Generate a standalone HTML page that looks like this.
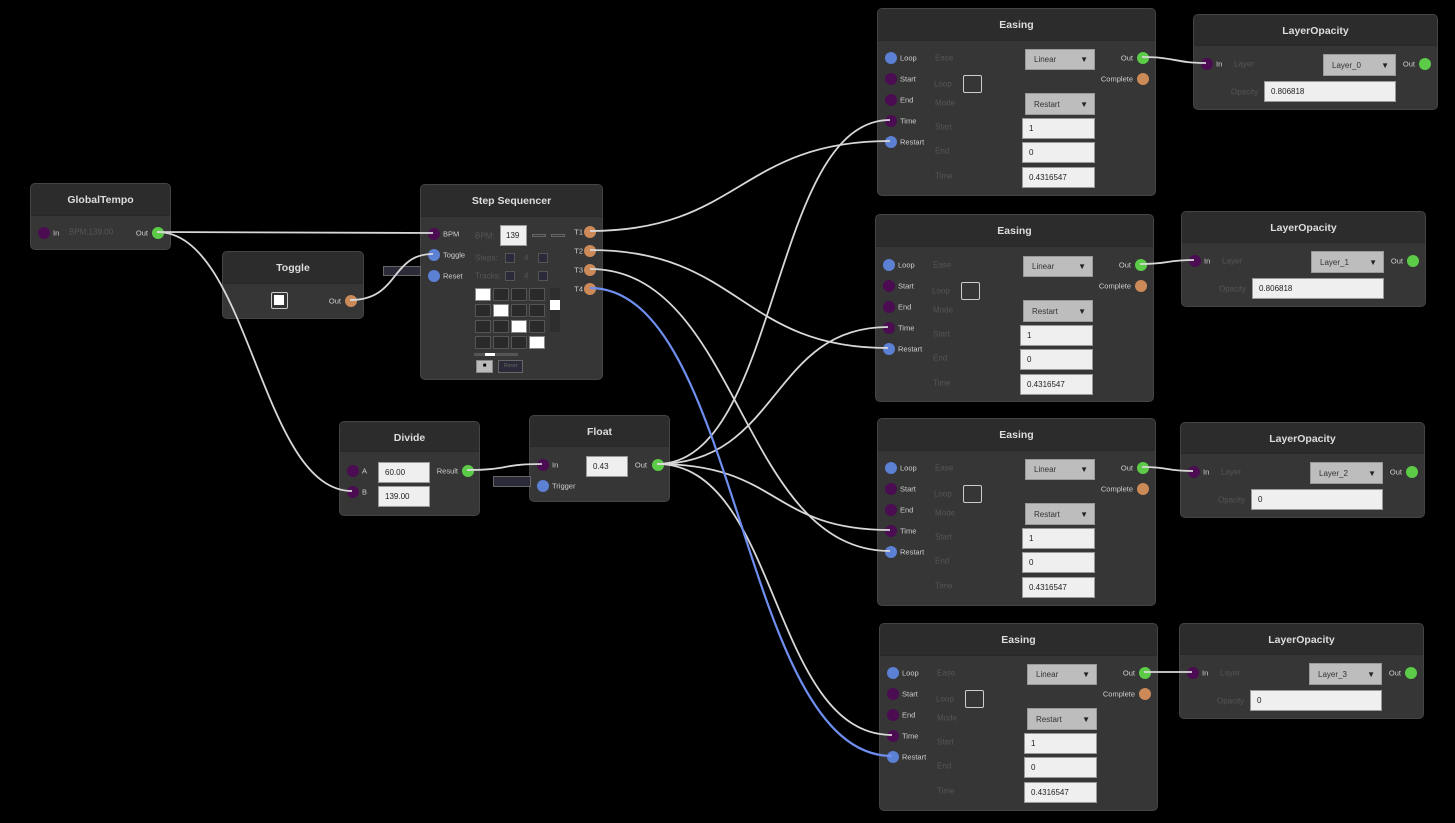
<!DOCTYPE html>
<html><head><meta charset="utf-8"><style>
*{box-sizing:border-box;margin:0;padding:0}
body{width:1455px;height:823px;background:#000;position:relative;overflow:hidden;font-family:"Liberation Sans",sans-serif}
.n{position:absolute;background:#363636;border:1px solid #444;border-radius:5px;overflow:hidden}
.h{position:absolute;left:0;top:0;right:0;background:#2c2c2c;color:#ddd;font-weight:bold;font-size:10.5px;text-align:center;border-bottom:1px solid #282828}
.a{position:absolute}
.p{position:absolute;width:12px;height:12px;border-radius:50%;margin:-6px 0 0 -6px}
.pu{background:#4b0c52}.bl{background:#5b80d4}.gr{background:#5ccb48}.or{background:#cc8a58}
.l{position:absolute;font-size:7.5px;color:#cfcfcf;transform:translateY(-50%);white-space:nowrap}
.fl{position:absolute;font-size:8px;color:#555;transform:translateY(-50%);white-space:nowrap}
.in{position:absolute;background:#efefef;border:1px solid #999;font-size:8px;color:#222;padding-left:6px;display:flex;align-items:center}
.dd{position:absolute;background:#bdbdbd;border:1px solid #999;font-size:8px;color:#333;padding-left:8px;display:flex;align-items:center}
.dd:after{content:"▼";position:absolute;right:6px;font-size:8px;color:#222}
.cb{position:absolute;border:1.5px solid #ccc;border-radius:2px}
.sq{position:absolute;width:16px;height:13px;border:1px solid #555;background:#2a2a2a}
.sq.w{background:#fff;border-color:#888}
</style></head><body>

<!-- GlobalTempo -->
<div class="n" style="left:30px;top:183px;width:141px;height:67px">
<div class="h" style="height:32px;line-height:32px">GlobalTempo</div>
<div class="p pu" style="left:13px;top:49px"></div><div class="l" style="left:22px;top:49px">In</div>
<div class="fl" style="left:38px;top:48px">BPM:139.00</div>
<div class="l" style="right:22px;top:49px">Out</div><div class="p gr" style="left:127px;top:49px"></div>
</div>

<!-- Toggle -->
<div class="n" style="left:222px;top:251px;width:142px;height:68px">
<div class="h" style="height:32px;line-height:32px">Toggle</div>
<div class="cb" style="left:48px;top:40px;width:17px;height:17px;padding:2px"><div style="width:10px;height:10px;background:#fff"></div></div>
<div class="l" style="right:22px;top:49px">Out</div><div class="p or" style="left:128px;top:49px"></div>
</div>

<!-- Step Sequencer -->
<div class="n" style="left:420px;top:184px;width:183px;height:196px">
<div class="h" style="height:32px;line-height:32px">Step Sequencer</div>
<div class="p pu" style="left:13px;top:49px"></div><div class="l" style="left:22px;top:49px">BPM</div>
<div class="p bl" style="left:13px;top:70px"></div><div class="l" style="left:22px;top:70px">Toggle</div>
<div class="p bl" style="left:13px;top:91px"></div><div class="l" style="left:22px;top:91px">Reset</div>
<div class="fl" style="left:54px;top:51px">BPM:</div>
<div class="in" style="left:79px;top:40px;width:27px;height:21px;padding-left:5px">139</div>
<div class="a" style="left:111px;top:49px;width:14px;height:3px;border:1px solid #666"></div>
<div class="a" style="left:130px;top:49px;width:14px;height:3px;border:1px solid #666"></div>
<div class="fl" style="left:54px;top:73px">Steps:</div><div class="a" style="left:84px;top:68px;width:10px;height:10px;border:1px solid #555;background:#2a2a3a"></div><div class="fl" style="left:103px;top:73px">4</div><div class="a" style="left:117px;top:68px;width:10px;height:10px;border:1px solid #555;background:#2a2a3a"></div>
<div class="fl" style="left:54px;top:91px">Tracks:</div><div class="a" style="left:84px;top:86px;width:10px;height:10px;border:1px solid #555;background:#2a2a3a"></div><div class="fl" style="left:103px;top:91px">4</div><div class="a" style="left:117px;top:86px;width:10px;height:10px;border:1px solid #555;background:#2a2a3a"></div>
<div class="sq w" style="left:54px;top:103px"></div><div class="sq" style="left:72px;top:103px"></div><div class="sq" style="left:90px;top:103px"></div><div class="sq" style="left:108px;top:103px"></div>
<div class="sq" style="left:54px;top:119px"></div><div class="sq w" style="left:72px;top:119px"></div><div class="sq" style="left:90px;top:119px"></div><div class="sq" style="left:108px;top:119px"></div>
<div class="sq" style="left:54px;top:135px"></div><div class="sq" style="left:72px;top:135px"></div><div class="sq w" style="left:90px;top:135px"></div><div class="sq" style="left:108px;top:135px"></div>
<div class="sq" style="left:54px;top:151px"></div><div class="sq" style="left:72px;top:151px"></div><div class="sq" style="left:90px;top:151px"></div><div class="sq w" style="left:108px;top:151px"></div>
<div class="a" style="left:129px;top:103px;width:10px;height:44px;background:#2e2e2e"></div>
<div class="a" style="left:129px;top:115px;width:10px;height:10px;background:#fff"></div>
<div class="a" style="left:53px;top:168px;width:44px;height:3px;background:#555"></div><div class="a" style="left:64px;top:168px;width:10px;height:3px;background:#fff"></div>
<div class="a" style="left:55px;top:175px;width:17px;height:13px;background:#bbb;border:1px solid #888;font-size:6px;text-align:center;line-height:11px">■</div>
<div class="a" style="left:77px;top:175px;width:25px;height:13px;background:#2a2a38;border:1px solid #666;font-size:5px;color:#666;text-align:center;line-height:11px">Reset</div>
<div class="l" style="right:19px;top:47px">T1</div><div class="p or" style="left:169px;top:47px"></div>
<div class="l" style="right:19px;top:66px">T2</div><div class="p or" style="left:169px;top:66px"></div>
<div class="l" style="right:19px;top:85px">T3</div><div class="p or" style="left:169px;top:85px"></div>
<div class="l" style="right:19px;top:104px">T4</div><div class="p or" style="left:169px;top:104px"></div>
</div>
<div class="a" style="left:383px;top:266px;width:38px;height:10px;background:#2a2a38;border:1px solid #666"></div>

<!-- Divide -->
<div class="n" style="left:339px;top:421px;width:141px;height:95px">
<div class="h" style="height:30px;line-height:32px">Divide</div>
<div class="p pu" style="left:13px;top:49px"></div><div class="l" style="left:22px;top:49px">A</div>
<div class="p pu" style="left:13px;top:70px"></div><div class="l" style="left:22px;top:70px">B</div>
<div class="in" style="left:38px;top:40px;width:52px;height:21px">60.00</div>
<div class="in" style="left:38px;top:64px;width:52px;height:21px">139.00</div>
<div class="l" style="right:21px;top:49px">Result</div><div class="p gr" style="left:128px;top:49px"></div>
</div>

<!-- Float -->
<div class="n" style="left:529px;top:415px;width:141px;height:87px">
<div class="h" style="height:31px;line-height:32px">Float</div>
<div class="p pu" style="left:13px;top:49px"></div><div class="l" style="left:22px;top:49px">In</div>
<div class="p bl" style="left:13px;top:70px"></div><div class="l" style="left:22px;top:70px">Trigger</div>
<div class="in" style="left:56px;top:40px;width:42px;height:21px">0.43</div>
<div class="l" style="right:22px;top:49px">Out</div><div class="p gr" style="left:128px;top:49px"></div>
</div>
<div class="a" style="left:493px;top:476px;width:38px;height:11px;background:#2a2a38;border:1px solid #666"></div>

<!-- Easing template x4 -->
<div class="n" style="left:877px;top:8px;width:279px;height:188px">
<div class="h" style="height:32px;line-height:33px">Easing</div>
<div class="p bl" style="left:13px;top:49px"></div><div class="l" style="left:22px;top:49px">Loop</div>
<div class="p pu" style="left:13px;top:70px"></div><div class="l" style="left:22px;top:70px">Start</div>
<div class="p pu" style="left:13px;top:91px"></div><div class="l" style="left:22px;top:91px">End</div>
<div class="p pu" style="left:13px;top:112px"></div><div class="l" style="left:22px;top:112px">Time</div>
<div class="p bl" style="left:13px;top:133px"></div><div class="l" style="left:22px;top:133px">Restart</div>
<div class="fl" style="left:57px;top:49px">Ease</div><div class="dd" style="left:147px;top:40px;width:70px;height:21px">Linear</div>
<div class="fl" style="left:56px;top:75px">Loop</div><div class="cb" style="left:85px;top:66px;width:19px;height:18px"></div>
<div class="fl" style="left:57px;top:94px">Mode</div><div class="dd" style="left:147px;top:84px;width:70px;height:22px">Restart</div>
<div class="fl" style="left:57px;top:118px">Start</div><div class="in" style="left:144px;top:109px;width:73px;height:21px">1</div>
<div class="fl" style="left:57px;top:142px">End</div><div class="in" style="left:144px;top:133px;width:73px;height:21px">0</div>
<div class="fl" style="left:57px;top:167px">Time</div><div class="in" style="left:144px;top:158px;width:73px;height:21px">0.4316547</div>
<div class="l" style="right:22px;top:49px">Out</div><div class="p gr" style="left:265px;top:49px"></div>
<div class="l" style="right:22px;top:70px">Complete</div><div class="p or" style="left:265px;top:70px"></div>
</div>
<div class="n" style="left:875px;top:214px;width:279px;height:188px">
<div class="h" style="height:32px;line-height:33px">Easing</div>
<div class="p bl" style="left:13px;top:50px"></div><div class="l" style="left:22px;top:50px">Loop</div>
<div class="p pu" style="left:13px;top:71px"></div><div class="l" style="left:22px;top:71px">Start</div>
<div class="p pu" style="left:13px;top:92px"></div><div class="l" style="left:22px;top:92px">End</div>
<div class="p pu" style="left:13px;top:113px"></div><div class="l" style="left:22px;top:113px">Time</div>
<div class="p bl" style="left:13px;top:134px"></div><div class="l" style="left:22px;top:134px">Restart</div>
<div class="fl" style="left:57px;top:50px">Ease</div><div class="dd" style="left:147px;top:41px;width:70px;height:21px">Linear</div>
<div class="fl" style="left:56px;top:76px">Loop</div><div class="cb" style="left:85px;top:67px;width:19px;height:18px"></div>
<div class="fl" style="left:57px;top:95px">Mode</div><div class="dd" style="left:147px;top:85px;width:70px;height:22px">Restart</div>
<div class="fl" style="left:57px;top:119px">Start</div><div class="in" style="left:144px;top:110px;width:73px;height:21px">1</div>
<div class="fl" style="left:57px;top:143px">End</div><div class="in" style="left:144px;top:134px;width:73px;height:21px">0</div>
<div class="fl" style="left:57px;top:168px">Time</div><div class="in" style="left:144px;top:159px;width:73px;height:21px">0.4316547</div>
<div class="l" style="right:22px;top:50px">Out</div><div class="p gr" style="left:265px;top:50px"></div>
<div class="l" style="right:22px;top:71px">Complete</div><div class="p or" style="left:265px;top:71px"></div>
</div>
<div class="n" style="left:877px;top:418px;width:279px;height:188px">
<div class="h" style="height:32px;line-height:33px">Easing</div>
<div class="p bl" style="left:13px;top:49px"></div><div class="l" style="left:22px;top:49px">Loop</div>
<div class="p pu" style="left:13px;top:70px"></div><div class="l" style="left:22px;top:70px">Start</div>
<div class="p pu" style="left:13px;top:91px"></div><div class="l" style="left:22px;top:91px">End</div>
<div class="p pu" style="left:13px;top:112px"></div><div class="l" style="left:22px;top:112px">Time</div>
<div class="p bl" style="left:13px;top:133px"></div><div class="l" style="left:22px;top:133px">Restart</div>
<div class="fl" style="left:57px;top:49px">Ease</div><div class="dd" style="left:147px;top:40px;width:70px;height:21px">Linear</div>
<div class="fl" style="left:56px;top:75px">Loop</div><div class="cb" style="left:85px;top:66px;width:19px;height:18px"></div>
<div class="fl" style="left:57px;top:94px">Mode</div><div class="dd" style="left:147px;top:84px;width:70px;height:22px">Restart</div>
<div class="fl" style="left:57px;top:118px">Start</div><div class="in" style="left:144px;top:109px;width:73px;height:21px">1</div>
<div class="fl" style="left:57px;top:142px">End</div><div class="in" style="left:144px;top:133px;width:73px;height:21px">0</div>
<div class="fl" style="left:57px;top:167px">Time</div><div class="in" style="left:144px;top:158px;width:73px;height:21px">0.4316547</div>
<div class="l" style="right:22px;top:49px">Out</div><div class="p gr" style="left:265px;top:49px"></div>
<div class="l" style="right:22px;top:70px">Complete</div><div class="p or" style="left:265px;top:70px"></div>
</div>
<div class="n" style="left:879px;top:623px;width:279px;height:188px">
<div class="h" style="height:32px;line-height:33px">Easing</div>
<div class="p bl" style="left:13px;top:49px"></div><div class="l" style="left:22px;top:49px">Loop</div>
<div class="p pu" style="left:13px;top:70px"></div><div class="l" style="left:22px;top:70px">Start</div>
<div class="p pu" style="left:13px;top:91px"></div><div class="l" style="left:22px;top:91px">End</div>
<div class="p pu" style="left:13px;top:112px"></div><div class="l" style="left:22px;top:112px">Time</div>
<div class="p bl" style="left:13px;top:133px"></div><div class="l" style="left:22px;top:133px">Restart</div>
<div class="fl" style="left:57px;top:49px">Ease</div><div class="dd" style="left:147px;top:40px;width:70px;height:21px">Linear</div>
<div class="fl" style="left:56px;top:75px">Loop</div><div class="cb" style="left:85px;top:66px;width:19px;height:18px"></div>
<div class="fl" style="left:57px;top:94px">Mode</div><div class="dd" style="left:147px;top:84px;width:70px;height:22px">Restart</div>
<div class="fl" style="left:57px;top:118px">Start</div><div class="in" style="left:144px;top:109px;width:73px;height:21px">1</div>
<div class="fl" style="left:57px;top:142px">End</div><div class="in" style="left:144px;top:133px;width:73px;height:21px">0</div>
<div class="fl" style="left:57px;top:167px">Time</div><div class="in" style="left:144px;top:158px;width:73px;height:21px">0.4316547</div>
<div class="l" style="right:22px;top:49px">Out</div><div class="p gr" style="left:265px;top:49px"></div>
<div class="l" style="right:22px;top:70px">Complete</div><div class="p or" style="left:265px;top:70px"></div>
</div>

<!-- LayerOpacity x4 -->
<div class="n" style="left:1193px;top:14px;width:245px;height:96px">
<div class="h" style="height:31px;line-height:33px">LayerOpacity</div>
<div class="p pu" style="left:13px;top:49px"></div><div class="l" style="left:22px;top:49px">In</div>
<div class="fl" style="left:40px;top:49px">Layer</div><div class="dd" style="left:129px;top:39px;width:73px;height:22px">Layer_0</div>
<div class="l" style="right:22px;top:49px">Out</div><div class="p gr" style="left:231px;top:49px"></div>
<div class="fl" style="left:37px;top:77px">Opacity</div><div class="in" style="left:70px;top:66px;width:132px;height:21px">0.806818</div>
</div>
<div class="n" style="left:1181px;top:211px;width:245px;height:96px">
<div class="h" style="height:31px;line-height:33px">LayerOpacity</div>
<div class="p pu" style="left:13px;top:49px"></div><div class="l" style="left:22px;top:49px">In</div>
<div class="fl" style="left:40px;top:49px">Layer</div><div class="dd" style="left:129px;top:39px;width:73px;height:22px">Layer_1</div>
<div class="l" style="right:22px;top:49px">Out</div><div class="p gr" style="left:231px;top:49px"></div>
<div class="fl" style="left:37px;top:77px">Opacity</div><div class="in" style="left:70px;top:66px;width:132px;height:21px">0.806818</div>
</div>
<div class="n" style="left:1180px;top:422px;width:245px;height:96px">
<div class="h" style="height:31px;line-height:33px">LayerOpacity</div>
<div class="p pu" style="left:13px;top:49px"></div><div class="l" style="left:22px;top:49px">In</div>
<div class="fl" style="left:40px;top:49px">Layer</div><div class="dd" style="left:129px;top:39px;width:73px;height:22px">Layer_2</div>
<div class="l" style="right:22px;top:49px">Out</div><div class="p gr" style="left:231px;top:49px"></div>
<div class="fl" style="left:37px;top:77px">Opacity</div><div class="in" style="left:70px;top:66px;width:132px;height:21px">0</div>
</div>
<div class="n" style="left:1179px;top:623px;width:245px;height:96px">
<div class="h" style="height:31px;line-height:33px">LayerOpacity</div>
<div class="p pu" style="left:13px;top:49px"></div><div class="l" style="left:22px;top:49px">In</div>
<div class="fl" style="left:40px;top:49px">Layer</div><div class="dd" style="left:129px;top:39px;width:73px;height:22px">Layer_3</div>
<div class="l" style="right:22px;top:49px">Out</div><div class="p gr" style="left:231px;top:49px"></div>
<div class="fl" style="left:37px;top:77px">Opacity</div><div class="in" style="left:70px;top:66px;width:132px;height:21px">0</div>
</div>

<svg class="a" style="left:0;top:0" width="1455" height="823" fill="none" stroke="#d8d8d8" stroke-width="1.8">
<path d="M157 232 L433 233"/>
<path d="M157 232 C250 232 260 491 352 491"/>
<path d="M350 300 C400 300 390 254 433 254"/>
<path d="M467 470 C510 470 500 464 542 464"/>
<path d="M590 231 C740 231 740 141 890 141"/>
<path d="M590 250 C740 250 740 348 888 348"/>
<path d="M590 269 C740 269 740 551 890 551"/>
<path d="M657 464 C780 464 770 120 890 120"/>
<path d="M657 464 C780 464 770 327 888 327"/>
<path d="M657 464 C780 464 770 530 890 530"/>
<path d="M657 464 C780 464 770 735 892 735"/>
<path d="M1142 57 C1175 57 1175 63 1206 63"/>
<path d="M1140 264 C1170 264 1165 260 1194 260"/>
<path d="M1142 467 C1170 467 1165 471 1193 471"/>
<path d="M1144 672 C1170 672 1165 672 1192 672"/>
<path d="M590 288 C740 288 740 756 892 756" stroke="#6f8ff0" stroke-width="2.2"/>
</svg>
</body></html>
